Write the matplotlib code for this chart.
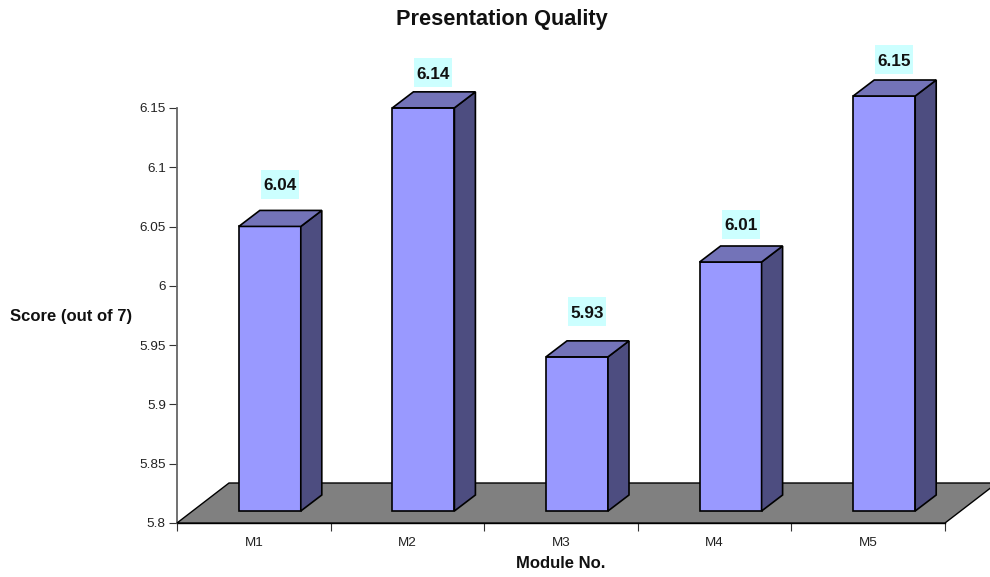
import matplotlib
matplotlib.use("Agg")
import matplotlib.pyplot as plt
from matplotlib.patches import Polygon, Rectangle

modules = ["M1", "M2", "M3", "M4", "M5"]
scores = [6.04, 6.14, 5.93, 6.01, 6.15]
score_labels = ["6.04", "6.14", "5.93", "6.01", "6.15"]
y_ticks = [5.8, 5.85, 5.9, 5.95, 6.0, 6.05, 6.1, 6.15]
y_tick_labels = ["5.8", "5.85", "5.9", "5.95", "6", "6.05", "6.1", "6.15"]

# how far each value label floats above its bar, in pixels
label_lift = [26, 19, 29, 22, 20]

plt.rcParams["font.family"] = ["Liberation Sans", "DejaVu Sans"]

W, H = 990, 577
fig = plt.figure(figsize=(W / 100, H / 100), dpi=100)
ax = fig.add_axes([177 / W, (H - 523) / H, 768 / W, 415 / H])
ax.set_xlim(0, len(modules))
ax.set_ylim(5.8, 6.15)
ax.patch.set_visible(False)

FLOOR_DX, FLOOR_DY = 52, 40
FRONT_DX, FRONT_DY = 16, 12
BACK_DX, BACK_DY = 37, 28
BAR_W = 62 / 153.6
LABEL_W, LABEL_H = 38, 29

# floor of the 3D plot
origin = ax.transData.transform((0, 5.8))
end = ax.transData.transform((len(modules), 5.8))
floor_pts = [origin, end, end + (FLOOR_DX, FLOOR_DY), origin + (FLOOR_DX, FLOOR_DY)]
fig.add_artist(Polygon(floor_pts, closed=True, transform=None, facecolor="#808080",
                       edgecolor="black", linewidth=1.0, zorder=1))

for i, (value, text, lift) in enumerate(zip(scores, score_labels, label_lift)):
    left = ax.transData.transform((i + 0.5 - BAR_W / 2, 5.8)) + (FRONT_DX, FRONT_DY)
    right = ax.transData.transform((i + 0.5 + BAR_W / 2, 5.8)) + (FRONT_DX, FRONT_DY)
    top_y = ax.transData.transform((0, value))[1] + FRONT_DY
    bottom_y = left[1]
    ddx, ddy = BACK_DX - FRONT_DX, BACK_DY - FRONT_DY
    xl, xr = left[0], right[0]

    faces = [
        ([(xl, bottom_y), (xr, bottom_y), (xr, top_y), (xl, top_y)], "#9999FF"),
        ([(xr, bottom_y), (xr + ddx, bottom_y + ddy), (xr + ddx, top_y + ddy), (xr, top_y)], "#4D4D80"),
        ([(xl, top_y), (xr, top_y), (xr + ddx, top_y + ddy), (xl + ddx, top_y + ddy)], "#7373B8"),
    ]
    for pts, color in faces:
        fig.add_artist(Polygon(pts, closed=True, transform=None, facecolor=color,
                               edgecolor="black", linewidth=1.2, zorder=3))

    # value label on a pale cyan plate above the bar
    cx = (xl + xr) / 2 + 10
    cy = top_y + ddy + lift
    fig.add_artist(Rectangle((cx - LABEL_W / 2, cy - LABEL_H / 2), LABEL_W, LABEL_H,
                             transform=None, facecolor="#CCFFFF", edgecolor="none", zorder=4))
    fig.text(cx / W, cy / H, text, ha="center", va="center_baseline", fontsize=12.3,
             fontweight="bold", color="#111111", zorder=5)

for side in ("top", "right"):
    ax.spines[side].set_visible(False)
ax.spines["left"].set_color("#666666")
ax.spines["left"].set_linewidth(1.3)
ax.spines["bottom"].set_color("black")
ax.spines["bottom"].set_linewidth(1.0)
ax.spines["bottom"].set_zorder(2)

ax.set_yticks(y_ticks, y_tick_labels)
ax.set_xticks(range(len(modules) + 1), [""] * (len(modules) + 1))
ax.tick_params(axis="y", length=6, width=0.8, color="#333333", labelsize=9.7,
               labelcolor="#222222", pad=2)
ax.tick_params(axis="x", length=6, width=0.8, color="#333333")

for i, name in enumerate(modules):
    ax.annotate(name, (i + 0.5, 5.8), xytext=(0, -14.5), textcoords="offset points",
                ha="center", va="center", fontsize=9.7, color="#222222")

fig.text(502 / W, (H - 19) / H, "Presentation Quality", ha="center", va="center",
         fontsize=15.7, fontweight="bold", color="#111111")
fig.text(71 / W, (H - 316) / H, "Score (out of 7)", ha="center", va="center",
         fontsize=12, fontweight="bold", color="#111111")
fig.text(561 / W, (H - 564) / H, "Module No.", ha="center", va="center",
         fontsize=12, fontweight="bold", color="#111111")

fig.savefig("out.png", dpi=100, facecolor="white")
